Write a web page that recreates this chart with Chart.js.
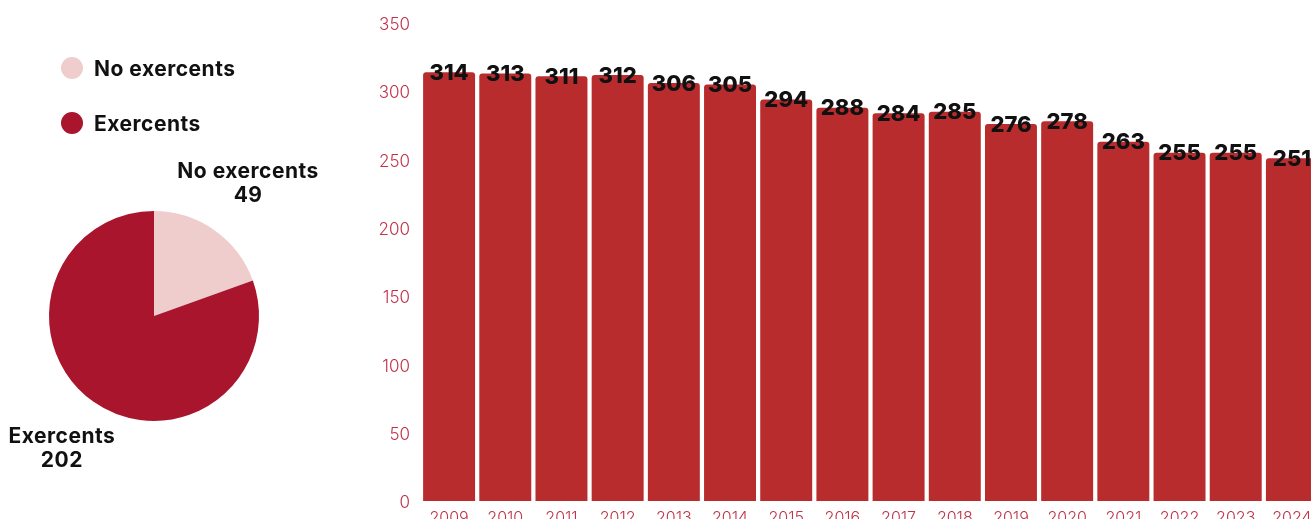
<!DOCTYPE html>
<html>
<head>
<meta charset="utf-8">
<script src="https://cdn.jsdelivr.net/npm/chart.js@4.4.1/dist/chart.umd.min.js"></script>
<style>
  html, body { margin:0; padding:0; background:#fff; width:1311px; height:519px; overflow:hidden; position:relative; }
  #pieWrap { position:absolute; left:0; top:0; width:330px; height:519px; }
  #barWrap { position:absolute; left:360px; top:0; width:960px; height:540px; }
  #legend { position:absolute; left:61px; top:56px; font-family:Inter, "Noto Sans", sans-serif; font-weight:700; font-size:21px; letter-spacing:0.5px; color:#111; }
  .li { display:flex; align-items:center; height:24px; margin-bottom:31px; }
  .dot { width:22px; height:22px; border-radius:50%; margin-right:11px; }
</style>
</head>
<body>
<div id="pieWrap"><canvas id="pie"></canvas></div>
<div id="legend"></div>
<div id="barWrap"><canvas id="bar"></canvas></div>
<script>
const pieLabels = ["No exercents", "Exercents"];
const pieValues = [49, 202];
const pieColors = ["#efcdcd", "#a8152c"];

const years = ["2009","2010","2011","2012","2013","2014","2015","2016","2017","2018","2019","2020","2021","2022","2023","2024"];
const counts = [314, 313, 311, 312, 306, 305, 294, 288, 284, 285, 276, 278, 263, 255, 255, 251];
const yTicks = [0, 50, 100, 150, 200, 250, 300, 350];

const FONT = 'Inter, "Noto Sans", sans-serif';

// HTML legend built from data
const leg = document.getElementById('legend');
pieLabels.forEach((l, i) => {
  const d = document.createElement('div'); d.className = 'li';
  const dot = document.createElement('span'); dot.className = 'dot'; dot.style.background = pieColors[i];
  const t = document.createElement('span'); t.textContent = l;
  d.appendChild(dot); d.appendChild(t); leg.appendChild(d);
});

const pieLabelPlugin = {
  id: 'pieLabels',
  afterDatasetsDraw(chart) {
    const ctx = chart.ctx;
    const meta = chart.getDatasetMeta(0);
    ctx.save();
    ctx.font = '700 21px ' + FONT;
    try { ctx.letterSpacing = '0.5px'; } catch (e) {}
    ctx.fillStyle = '#111';
    ctx.textAlign = 'center';
    ctx.textBaseline = 'middle';
    meta.data.forEach((arc, i) => {
      const mid = (arc.startAngle + arc.endAngle) / 2;
      const r = arc.outerRadius * 1.54;
      const x = arc.x + Math.cos(mid) * r;
      const y = arc.y + Math.sin(mid) * r;
      ctx.fillText(pieLabels[i], x + 1, y - 12);
      ctx.fillText(String(pieValues[i]), x + 1, y + 12);
    });
    ctx.restore();
  }
};

new Chart(document.getElementById('pie'), {
  type: 'pie',
  data: { labels: pieLabels, datasets: [{ data: pieValues, backgroundColor: pieColors, borderWidth: 0 }] },
  options: {
    responsive: true, maintainAspectRatio: false, animation: false,
    layout: { padding: { left: 49, right: 71, top: 211, bottom: 98 } },
    plugins: { legend: { display: false }, tooltip: { enabled: false } }
  },
  plugins: [pieLabelPlugin]
});

const barLabelPlugin = {
  id: 'barLabels',
  afterDatasetsDraw(chart) {
    const ctx = chart.ctx;
    const meta = chart.getDatasetMeta(0);
    ctx.save();
    ctx.font = '800 22px ' + FONT;
    ctx.fillStyle = '#111';
    ctx.textAlign = 'center';
    ctx.textBaseline = 'middle';
    meta.data.forEach((bar, i) => {
      ctx.fillText(String(counts[i]), bar.x, bar.y + 1);
    });
    ctx.restore();
  }
};

new Chart(document.getElementById('bar'), {
  type: 'bar',
  data: { labels: years, datasets: [{ data: counts, backgroundColor: '#b92c2e', borderWidth: 0,
    borderRadius: { topLeft: 3, topRight: 3, bottomLeft: 0, bottomRight: 0 }, borderSkipped: 'bottom',
    categoryPercentage: 1, barPercentage: 0.925 }] },
  options: {
    responsive: true, maintainAspectRatio: false, animation: false,
    layout: { padding: { top: 23, right: 0, left: 0, bottom: 0 } },
    plugins: { legend: { display: false }, tooltip: { enabled: false } },
    scales: {
      x: {
        grid: { display: false, drawTicks: false }, border: { display: false },
        ticks: { color: '#c0334a', font: { family: FONT, size: 16, weight: 300 }, padding: 8, maxRotation: 0, autoSkip: false },
        afterFit(s) { s.height = 39; }
      },
      y: {
        min: 0, max: 350,
        grid: { display: false, drawTicks: false }, border: { display: false },
        afterBuildTicks(s) { s.ticks = yTicks.map(v => ({ value: v })); },
        ticks: { color: '#c0334a', font: { family: FONT, size: 17, weight: 300 }, padding: 11, labelOffset: 2 },
        afterFit(s) { s.width = 61; }
      }
    }
  },
  plugins: [barLabelPlugin]
});
</script>
</body>
</html>
